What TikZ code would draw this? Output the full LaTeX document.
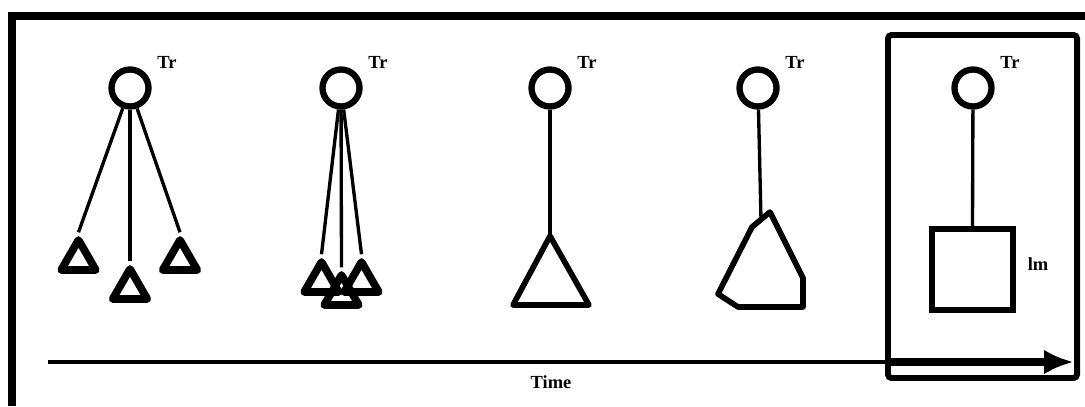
\documentclass[tikz,border=0pt]{standalone}
\usepackage{tikz}
\usepackage{fontspec}
\setmainfont{Liberation Serif}
\usetikzlibrary{positioning,arrows.meta,shapes.geometric,calc}

\begin{document}
\begin{tikzpicture}[
  x=0.02cm, y=-0.02cm,
  tr/.style={draw, circle, line width=3.6pt, minimum size=0.74cm, inner sep=0pt},
  trlabel/.style={font=\bfseries\fontsize{10.5}{12}\selectfont, inner sep=1pt},
  tri/.style={draw, regular polygon, regular polygon sides=3, line width=4.4pt,
              line join=round, minimum size=0.8cm, inner sep=0pt},
  wire/.style={line width=1.9pt},
  blob/.style={line width=3.2pt, line join=round},
  frame/.style={line width=4pt},
]
  \useasboundingbox (0,0) rectangle (1085,406);

  % outer frame (cut at the right and bottom)
  \draw[frame] (12,406) -- (12,16) -- (1085,16);

  % Transmitters
  \node[tr] (c1) at (130,88) {};
  \node[tr] (c2) at (341,88) {};
  \node[tr] (c3) at (550,88) {};
  \node[tr] (c4) at (758,88) {};
  \node[tr] (c5) at (973,88) {};
  \foreach \i in {1,...,5}
    \node[trlabel] (l\i) at ($(c\i)+(37,-26)$) {Tr};

  % Stage 1: spread out
  \node[tri] (t11) at (78.5,260) {};
  \node[tri] (t12) at (130,289) {};
  \node[tri] (t13) at (180,260) {};
  \foreach \j in {1,2,3}
    \draw[wire] (c1) -- (t1\j.corner 1);

  % Stage 2: close together
  \node[tri] (t21) at (321.5,282) {};
  \node[tri] (t22) at (341.5,295) {};
  \node[tri] (t23) at (361.5,282) {};
  \foreach \j in {1,2,3}
    \draw[wire] (c2) -- (t2\j.corner 1);

  % Stage 3: one triangle
  \draw[blob] (550,236) coordinate (a3) -- (589,305) -- (513,305) -- cycle;
  \draw[wire] (c3) -- (a3);

  % Stage 4: deformed
  \draw[blob] (770,212) -- (803,278) -- (803,307) -- (738,307)
              -- (718,294) -- (752,227) -- cycle;
  \coordinate (a4) at (761,219.5);
  \draw[wire] (c4) -- (a4);

  % Stage 5: image
  \node[draw, rectangle, line width=3.4pt, minimum size=1.62cm, inner sep=0pt]
        (im) at (972.5,269.5) {};
  \draw[wire] (c5) -- (im.north);
  \node[trlabel] (lim) at (1038,264) {lm};
  \draw[line width=3.4pt, rounded corners=2pt] (888,35) rectangle (1077,378);

  % Time axis
  \coordinate (t0) at (48,362);
  \coordinate (t1) at (1074,362);
  \coordinate (tb) at (888,362);
  \draw[line width=2.8pt] (t0) -- (tb);
  \draw[line width=4.6pt, -{Latex[length=17pt,width=14pt]}] (tb) -- (t1);
  \node[trlabel] (time) at (551,382) {Time};
\end{tikzpicture}
\end{document}
